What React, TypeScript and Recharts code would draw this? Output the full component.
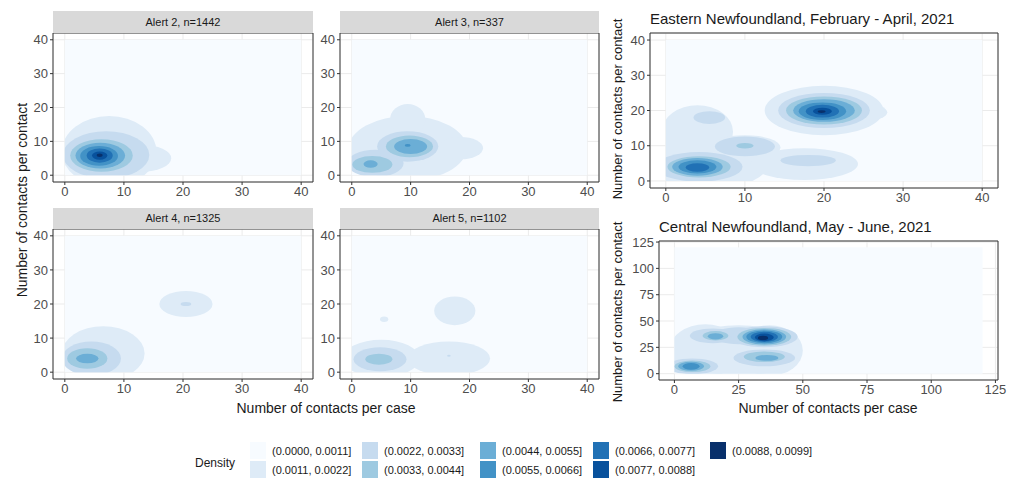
import { ScatterChart, Scatter, XAxis, YAxis, CartesianGrid, ReferenceArea } from 'recharts'

// brewer "Blues", one colour per density band
const BLUES = ['#F7FBFF', '#DEEBF7', '#C6DBEF', '#9ECAE1', '#6BAED6', '#4292C6', '#2171B5', '#08519C', '#08306B']

const densityLabels = [
  '(0.0000, 0.0011]', '(0.0011, 0.0022]', '(0.0022, 0.0033]', '(0.0033, 0.0044]', '(0.0044, 0.0055]',
  '(0.0055, 0.0066]', '(0.0066, 0.0077]', '(0.0077, 0.0088]', '(0.0088, 0.0099]',
]

const alertTicks = [0, 10, 20, 30, 40]
const centralTicks = [0, 25, 50, 75, 100, 125]

// contour bands, approximated as ellipses (centre x,y and radii rx,ry in data units)
const alert2Blobs = [
  { x: 7.5, y: 7, rx: 8, ry: 10.5, level: 1 },
  { x: 13, y: 5, rx: 5, ry: 4, level: 1 },
  { x: 7, y: 6, rx: 7.3, ry: 7, level: 2 },
  { x: 6.2, y: 5.8, rx: 5.3, ry: 4.8, level: 3 },
  { x: 6, y: 5.8, rx: 4.2, ry: 3.8, level: 4 },
  { x: 5.8, y: 5.7, rx: 3.2, ry: 2.9, level: 5 },
  { x: 5.9, y: 5.8, rx: 2.2, ry: 2.1, level: 6 },
  { x: 5.9, y: 5.8, rx: 1.3, ry: 1.2, level: 7 },
  { x: 5.9, y: 5.9, rx: 0.5, ry: 0.5, level: 8 },
]

const alert3Blobs = [
  { x: 9.5, y: 8, rx: 10, ry: 9.5, level: 1 },
  { x: 9.5, y: 16.5, rx: 3, ry: 4.5, level: 1 },
  { x: 18.5, y: 8, rx: 3.8, ry: 3.3, level: 1 },
  { x: 4, y: 3.5, rx: 4.8, ry: 4, level: 2 },
  { x: 9.5, y: 8.5, rx: 5.2, ry: 4.5, level: 2 },
  { x: 3.5, y: 3.2, rx: 3.4, ry: 2.5, level: 3 },
  { x: 9.8, y: 8.5, rx: 4, ry: 3.2, level: 3 },
  { x: 3.2, y: 3.3, rx: 1.2, ry: 1.1, level: 4 },
  { x: 10, y: 8.5, rx: 2.8, ry: 2.2, level: 4 },
  { x: 9.5, y: 8.8, rx: 0.5, ry: 0.4, level: 5 },
]

const alert4Blobs = [
  { x: 6.5, y: 5.5, rx: 7, ry: 8, level: 1 },
  { x: 20.5, y: 20, rx: 4.5, ry: 3.8, level: 1 },
  { x: 20.5, y: 20, rx: 0.9, ry: 0.6, level: 2 },
  { x: 4.5, y: 4, rx: 5, ry: 5, level: 2 },
  { x: 3.8, y: 4, rx: 3.4, ry: 3, level: 3 },
  { x: 3.8, y: 4, rx: 1.9, ry: 1.4, level: 4 },
]

const alert5Blobs = [
  { x: 5, y: 4, rx: 6.5, ry: 5.5, level: 1 },
  { x: 16.5, y: 4, rx: 7, ry: 5, level: 1 },
  { x: 17.5, y: 18, rx: 3.5, ry: 4.2, level: 1 },
  { x: 5.5, y: 15.5, rx: 0.7, ry: 0.8, level: 1 },
  { x: 4.8, y: 3.8, rx: 4.5, ry: 3.5, level: 2 },
  { x: 16.5, y: 4.8, rx: 0.3, ry: 0.3, level: 2 },
  { x: 4.6, y: 3.8, rx: 2.3, ry: 1.6, level: 3 },
]

const eastBlobs = [
  { x: 5, y: 5, rx: 8, ry: 7.5, level: 1 },
  { x: 4, y: 14, rx: 4.5, ry: 7.5, level: 1 },
  { x: 10, y: 9.5, rx: 4.5, ry: 3.5, level: 1 },
  { x: 17.5, y: 4.8, rx: 6.8, ry: 4.5, level: 1 },
  { x: 20, y: 20, rx: 7.5, ry: 7, level: 1 },
  { x: 25, y: 19.5, rx: 3, ry: 2.5, level: 1 },
  { x: 4.2, y: 4, rx: 5.5, ry: 4.2, level: 2 },
  { x: 10, y: 9.8, rx: 3.8, ry: 2.8, level: 2 },
  { x: 5.5, y: 18, rx: 2, ry: 1.8, level: 2 },
  { x: 18, y: 5.8, rx: 3.5, ry: 1.6, level: 2 },
  { x: 20, y: 20, rx: 5.8, ry: 5, level: 2 },
  { x: 4.2, y: 4, rx: 4, ry: 3, level: 3 },
  { x: 10, y: 10, rx: 1.1, ry: 0.8, level: 3 },
  { x: 20, y: 20, rx: 4.8, ry: 4, level: 3 },
  { x: 4, y: 4, rx: 3.2, ry: 2.5, level: 4 },
  { x: 20, y: 20, rx: 3.9, ry: 3.2, level: 4 },
  { x: 4, y: 4, rx: 2.4, ry: 1.9, level: 5 },
  { x: 19.8, y: 19.8, rx: 3, ry: 2.5, level: 5 },
  { x: 4, y: 3.8, rx: 1.5, ry: 1.2, level: 6 },
  { x: 19.8, y: 19.8, rx: 2.1, ry: 1.8, level: 6 },
  { x: 19.8, y: 19.8, rx: 1.2, ry: 1, level: 7 },
  { x: 19.7, y: 19.7, rx: 0.5, ry: 0.4, level: 8 },
]

const centralBlobs = [
  { x: 12, y: 22, rx: 14, ry: 25, level: 1 },
  { x: 37, y: 22, rx: 13, ry: 24, level: 1 },
  { x: 25, y: 22, rx: 24, ry: 24, level: 1 },
  { x: 7, y: 7, rx: 10, ry: 7.5, level: 2 },
  { x: 15, y: 36, rx: 9, ry: 7, level: 2 },
  { x: 25, y: 36, rx: 10, ry: 8, level: 2 },
  { x: 35, y: 35, rx: 13, ry: 10, level: 2 },
  { x: 35, y: 15, rx: 12, ry: 8, level: 2 },
  { x: 7, y: 7, rx: 7, ry: 5.5, level: 3 },
  { x: 16, y: 36, rx: 5, ry: 4.5, level: 3 },
  { x: 35, y: 35, rx: 10.5, ry: 8.5, level: 3 },
  { x: 35, y: 16, rx: 8, ry: 5, level: 3 },
  { x: 6.5, y: 7, rx: 5, ry: 4.3, level: 4 },
  { x: 16, y: 35.5, rx: 3, ry: 3, level: 4 },
  { x: 35, y: 35, rx: 8.5, ry: 7.2, level: 4 },
  { x: 36, y: 15, rx: 4.5, ry: 2.8, level: 4 },
  { x: 6.5, y: 7, rx: 3.3, ry: 3.2, level: 5 },
  { x: 35, y: 35, rx: 7, ry: 6, level: 5 },
  { x: 35, y: 35, rx: 5.3, ry: 4.8, level: 6 },
  { x: 35, y: 34.5, rx: 3.7, ry: 3.6, level: 7 },
  { x: 34.5, y: 34, rx: 2, ry: 2, level: 8 },
]

const FONT = '"Liberation Sans", Arial, sans-serif'
const M = 2
const TOP_PAD = 10
const RIGHT_PAD = 12
const Y_AXIS_W = 32
const X_AXIS_H = 24

function DensityPanel({ id, left, top, plotW, plotH, domain, ticks, fillMax, blobs }) {
  const pxX = plotW / (domain[1] - domain[0])
  const pxY = plotH / (domain[1] - domain[0])
  const width = M + Y_AXIS_W + plotW + RIGHT_PAD
  const height = TOP_PAD + plotH + X_AXIS_H + M
  const levels = [1, 2, 3, 4, 5, 6, 7, 8]
  const bg = [{ x: fillMax / 2, y: fillMax / 2, w: fillMax, h: fillMax }]
  const tick = { fontSize: 13, fill: '#4D4D4D', fontFamily: FONT }
  const clipId = `dens-${id}`

  return (
    <div style={{ position: 'absolute', left: left - Y_AXIS_W - M, top: top - TOP_PAD }}>
      <ScatterChart width={width} height={height} margin={{ top: TOP_PAD, right: RIGHT_PAD, bottom: M, left: M }}>
        <CartesianGrid stroke="#EBEBEB" />
        <XAxis type="number" dataKey="x" domain={domain} ticks={ticks} allowDataOverflow
          height={X_AXIS_H} tick={tick} tickSize={3} tickLine={{ stroke: '#333' }} axisLine={false} interval={0} />
        <YAxis type="number" dataKey="y" domain={domain} ticks={ticks} allowDataOverflow
          width={Y_AXIS_W} tick={tick} tickSize={3} tickLine={{ stroke: '#333' }} axisLine={false} interval={0} />
        <Scatter data={bg} isAnimationActive={false}
          shape={(p) => {
            const x = p.cx - (p.payload.w / 2) * pxX
            const y = p.cy - (p.payload.h / 2) * pxY
            const w = p.payload.w * pxX
            const h = p.payload.h * pxY
            return (
              <g>
                <defs>
                  <clipPath id={clipId}><rect x={x} y={y} width={w} height={h} /></clipPath>
                </defs>
                <rect x={x} y={y} width={w} height={h} fill={BLUES[0]} />
              </g>
            )
          }} />
        {levels.map(lvl => (
          <Scatter key={lvl} data={blobs.filter(b => b.level === lvl)} isAnimationActive={false}
            shape={(p) => (
              <ellipse cx={p.cx} cy={p.cy} rx={p.payload.rx * pxX} ry={p.payload.ry * pxY}
                fill={BLUES[lvl]} clipPath={`url(#${clipId})`} />
            )} />
        ))}
        <ReferenceArea x1={domain[0]} x2={domain[1]} y1={domain[0]} y2={domain[1]}
          fill="none" fillOpacity={0} stroke="#333" strokeWidth={1} />
      </ScatterChart>
    </div>
  )
}

function Strip({ left, top, width, height, text }) {
  return (
    <div style={{
      position: 'absolute', left, top, width, height, background: '#D9D9D9',
      fontSize: 11, color: '#1A1A1A', textAlign: 'center', lineHeight: `${height}px`,
    }}>{text}</div>
  )
}

function VTitle({ x, y, text, size = 14 }) {
  return (
    <div style={{
      position: 'absolute', left: x, top: y, transform: 'translate(-50%, -50%) rotate(-90deg)',
      whiteSpace: 'nowrap', fontSize: size, color: '#1A1A1A',
    }}>{text}</div>
  )
}

function HText({ x, y, text, size, anchorCenter }) {
  return (
    <div style={{
      position: 'absolute', left: x, top: y, transform: anchorCenter ? 'translate(-50%, -50%)' : 'translate(0, -50%)',
      whiteSpace: 'nowrap', fontSize: size, color: '#1A1A1A',
    }}>{text}</div>
  )
}

const legendCols = [250, 362, 480, 593, 710]
const legendRows = [442, 461]

export default function App() {
  return (
    <div style={{ position: 'absolute', left: 0, top: 0, width: 1009, height: 481, background: '#fff', fontFamily: FONT, overflow: 'hidden' }}>
      <DensityPanel id="a2" left={53} top={33} plotW={260} plotH={149} domain={[-2, 42]} ticks={alertTicks} fillMax={40} blobs={alert2Blobs} />
      <DensityPanel id="a3" left={340} top={33} plotW={259} plotH={149} domain={[-2, 42]} ticks={alertTicks} fillMax={40} blobs={alert3Blobs} />
      <DensityPanel id="a4" left={53} top={229} plotW={260} plotH={150} domain={[-2, 42]} ticks={alertTicks} fillMax={40} blobs={alert4Blobs} />
      <DensityPanel id="a5" left={340} top={229} plotW={259} plotH={150} domain={[-2, 42]} ticks={alertTicks} fillMax={40} blobs={alert5Blobs} />

      <DensityPanel id="east" left={650} top={33} plotW={348} plotH={155} domain={[-2, 42]} ticks={alertTicks} fillMax={40} blobs={eastBlobs} />
      <DensityPanel id="central" left={659} top={241} plotW={339} plotH={139} domain={[-6, 126]} ticks={centralTicks} fillMax={120} blobs={centralBlobs} />

      <Strip left={53} top={11} width={260} height={22} text="Alert 2, n=1442" />
      <Strip left={340} top={11} width={259} height={22} text="Alert 3, n=337" />
      <Strip left={53} top={208} width={260} height={21} text="Alert 4, n=1325" />
      <Strip left={340} top={208} width={259} height={21} text="Alert 5, n=1102" />

      <HText x={650} y={18} size={15} text="Eastern Newfoundland, February - April, 2021" />
      <HText x={659} y={226} size={15} text="Central Newfoundland, May - June, 2021" />

      <VTitle x={22} y={200} text="Number of contacts per contact" />
      <VTitle x={617} y={109} size={13} text="Number of contacts per contact" />
      <VTitle x={617} y={312} size={13} text="Number of contacts per contact" />
      <HText x={326} y={408} size={14} anchorCenter text="Number of contacts per case" />
      <HText x={828} y={408} size={14} anchorCenter text="Number of contacts per case" />

      <HText x={195} y={463} size={12} text="Density" />
      {densityLabels.map((label, i) => {
        const kx = legendCols[Math.floor(i / 2)]
        const ky = legendRows[i % 2]
        return (
          <div key={label}>
            <div style={{ position: 'absolute', left: kx, top: ky, width: 16, height: 17, background: BLUES[i] }} />
            <HText x={kx + 22} y={ky + 9} size={11} text={label} />
          </div>
        )
      })}
    </div>
  )
}
